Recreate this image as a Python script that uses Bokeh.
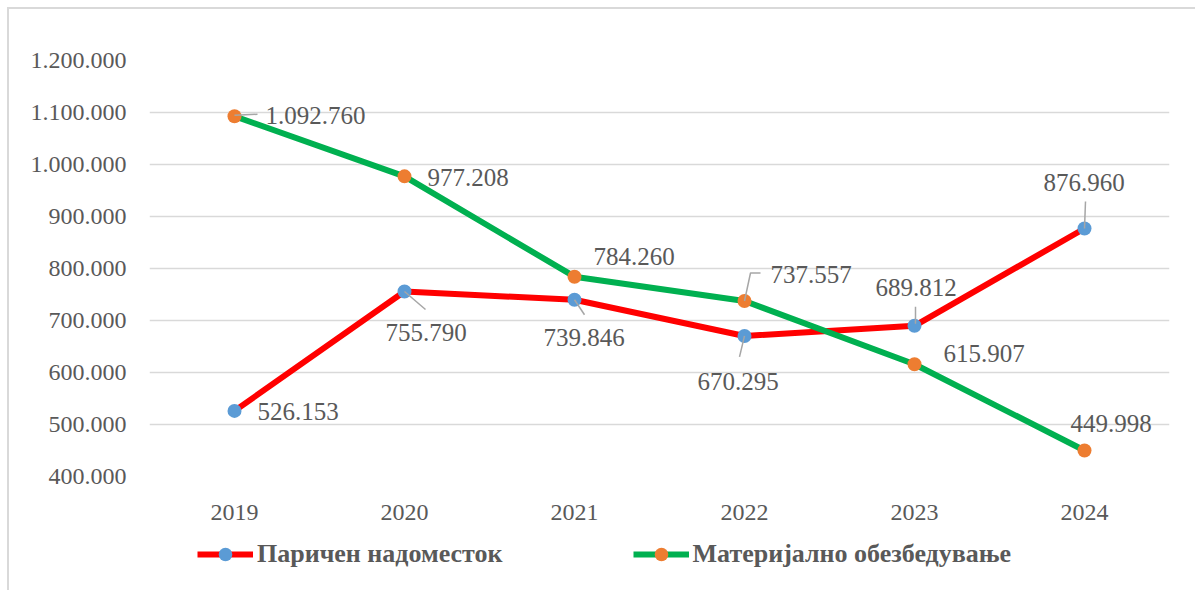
from bokeh.plotting import figure
from bokeh.layouts import column
from bokeh.models import Range1d, FixedTicker, Legend, LegendItem
from bokeh.core.properties import value
from bokeh.embed import file_html
from bokeh.resources import INLINE

# ---------------- data ----------------
years = ["2019", "2020", "2021", "2022", "2023", "2024"]
cash = [526153, 755790, 739846, 670295, 689812, 876960]
material = [1092760, 977208, 784260, 737557, 615907, 449998]
series_names = ["Паричен надоместок", "Материјално обезбедување"]
y_ticks = [400000, 500000, 600000, 700000, 800000, 900000, 1000000, 1100000, 1200000]
y_tick_labels = ["400.000", "500.000", "600.000", "700.000", "800.000",
                 "900.000", "1.000.000", "1.100.000", "1.200.000"]

# ---------------- styles ----------------
FONT = "Liberation Serif"
TXT = "#595959"
GRID = "#d9d9d9"
LEADER = "#a6a6a6"
RED, GREEN, BLUE, ORANGE = "#ff0000", "#00b050", "#5b9bd5", "#ed7d31"
FRAME_W, FRAME_H = 1020, 416
Y0, Y1 = 400000, 1200000
X0, X1 = -0.5, len(years) - 0.5

# label offsets in screen px (left-aligned text, y down)
cash_dx = [23, -19, -31, -47, -39, -41]
cash_dy = [1, 41, 38, 46, -38, -46]
mat_dx = [31, 23, 19, 26, 29, -14]
mat_dy = [-1, 1, -20, -26, -11, -27]
# leader lines: (series, index, list of px offsets from point)
leaders = [
    (0, 1, [(0, 0), (21, 18)]),
    (0, 2, [(0, 0), (10, 15)]),
    (0, 3, [(0, 0), (-5, 21)]),
    (0, 4, [(1, -2), (1, -19)]),
    (0, 5, [(0, 0), (1, -27)]),
    (1, 0, [(0, -1), (23, -2)]),
    (1, 3, [(0, 0), (6, -28), (16, -28)]),
]

def fmt(v):
    return f"{v:,}".replace(",", ".")

xs = list(range(len(years)))
px_x = (X1 - X0) / FRAME_W
px_y = (Y1 - Y0) / FRAME_H

p = figure(width=1195, height=530, output_backend="svg", toolbar_location=None,
           x_range=Range1d(X0, X1), y_range=Range1d(Y0, Y1),
           min_border_left=149, min_border_right=26, min_border_top=60,
           min_border_bottom=54)
p.outline_line_color = None
p.background_fill_color = "white"
p.border_fill_color = None

p.xgrid.grid_line_color = None
p.ygrid.grid_line_color = GRID
p.ygrid.grid_line_width = 1.5

p.yaxis.ticker = FixedTicker(ticks=y_ticks)
p.yaxis.major_label_overrides = dict(zip(y_ticks, y_tick_labels))
p.xaxis.ticker = FixedTicker(ticks=xs)
p.xaxis.major_label_overrides = dict(zip(xs, years))
for ax in (p.xaxis[0], p.yaxis[0]):
    ax.axis_line_color = None
    ax.major_tick_line_color = None
    ax.minor_tick_line_color = None
    ax.major_label_text_font = FONT
    ax.major_label_text_font_size = "24px"
    ax.major_label_text_color = TXT
p.yaxis.major_label_standoff = 17
p.xaxis.major_label_standoff = 22

p.line(xs, cash, line_color=RED, line_width=6, line_join="round")
p.scatter(xs, cash, size=14, fill_color=BLUE, line_color=None)
p.line(xs, material, line_color=GREEN, line_width=6, line_join="round")
p.scatter(xs, material, size=14, fill_color=ORANGE, line_color=None)

series = [cash, material]
for s, i, pts in leaders:
    lx = [xs[i] + dx * px_x for dx, dy in pts]
    ly = [series[s][i] - dy * px_y for dx, dy in pts]
    p.line(lx, ly, line_color=LEADER, line_width=1.5)

for vals, dx, dy in ((cash, cash_dx, cash_dy), (material, mat_dx, mat_dy)):
    p.text(x=xs, y=vals, text=[fmt(v) for v in vals], x_offset=dx, y_offset=dy,
           text_align="left", text_baseline="middle",
           text_font=value(FONT), text_font_size="25px", text_color=TXT)

# ---------------- legend strip ----------------
# the series are drawn again here only to provide legend swatches;
# the strip's x range lies outside the data, so only the legend shows
lg = figure(width=1195, height=60, output_backend="svg", toolbar_location=None,
            x_range=Range1d(-20, -19), y_range=Range1d(Y0, Y1),
            x_axis_type=None, y_axis_type=None,
            min_border_left=0, min_border_right=0, min_border_top=0,
            min_border_bottom=0)
lg.outline_line_color = None
lg.background_fill_color = None
lg.border_fill_color = None
lg.grid.visible = False
sw1 = [lg.line(xs, cash, line_color=RED, line_width=6),
       lg.scatter(xs, cash, size=14, fill_color=BLUE, line_color=None)]
sw2 = [lg.line(xs, material, line_color=GREEN, line_width=6),
       lg.scatter(xs, material, size=14, fill_color=ORANGE, line_color=None)]
legend = Legend(items=[LegendItem(label=series_names[0], renderers=sw1),
                       LegendItem(label=series_names[1], renderers=sw2)],
                orientation="horizontal", location=(48, 19),
                glyph_width=56, glyph_height=34, label_standoff=4, spacing=130,
                padding=0, margin=0, border_line_color=None,
                background_fill_alpha=0,
                label_text_font=FONT, label_text_font_style="bold",
                label_text_font_size="26px", label_text_color=TXT)
lg.add_layout(legend, "center")

root = column(p, lg, spacing=0)
root.styles = {
    "background-color": "white",
    "background-image": f"linear-gradient({GRID},{GRID}), linear-gradient({GRID},{GRID})",
    "background-size": "2px 100%, 100% 2px",
    "background-position": "7px 7px, 7px 7px",
    "background-repeat": "no-repeat",
}

open("out.html", "w").write(file_html(root, INLINE))
